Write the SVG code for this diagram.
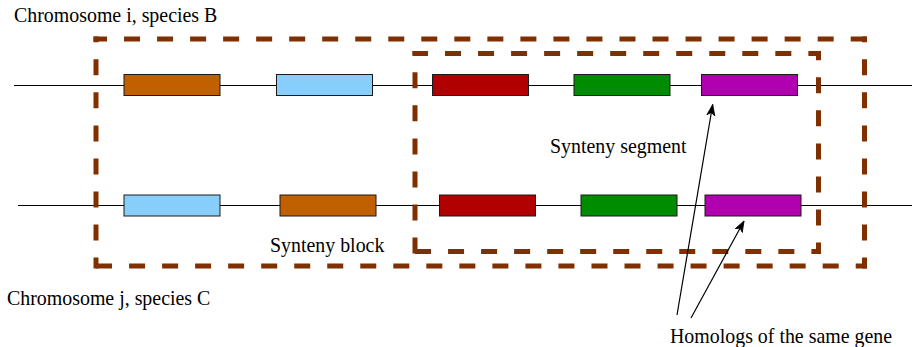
<svg xmlns="http://www.w3.org/2000/svg" width="912" height="347" viewBox="0 0 912 347">
<style>
.lbl{font-family:"Liberation Serif","Times New Roman",serif;font-size:19.9px;fill:#000}
.chr{stroke:#000;stroke-width:1;fill:none}
.gene{stroke:#1a1a1a;stroke-width:1}
.dash{fill:none;stroke:#803000;stroke-width:5;stroke-dasharray:16 17.03;stroke-linecap:butt}
.arr{stroke:#000;stroke-width:1.2;fill:none}
</style>
<defs>
<marker id="ah" viewBox="0 0 12 10" refX="11" refY="5" markerWidth="12" markerHeight="10" markerUnits="userSpaceOnUse" orient="auto">
<path d="M0,1 L11,5 L0,9 L3,5 Z" fill="#000" stroke="#000" stroke-width="0.8"/>
</marker>
</defs>
<rect width="912" height="347" fill="#fff"/>
<g id="chromosomes">
<line class="chr" x1="14" y1="85.5" x2="912" y2="85.5"/>
<line class="chr" x1="18" y1="205.5" x2="912" y2="205.5"/>
</g>
<g id="row1">
<g id="b-orange"><rect class="gene" x="124" y="74.5" width="96" height="21" fill="#c06000"/></g>
<g id="b-blue"><rect class="gene" x="276.5" y="74.5" width="96" height="21" fill="#87cefa"/></g>
<g id="b-red"><rect class="gene" x="432.5" y="74.5" width="96" height="21" fill="#b00000"/></g>
<g id="b-green"><rect class="gene" x="574" y="74.5" width="96" height="21" fill="#008c00"/></g>
<g id="b-magenta"><rect class="gene" x="701.5" y="74.5" width="96" height="21" fill="#b000b0"/></g>
</g>
<g id="row2">
<g id="c-blue"><rect class="gene" x="124" y="195" width="96" height="21" fill="#87cefa"/></g>
<g id="c-orange"><rect class="gene" x="280" y="195" width="96" height="21" fill="#c06000"/></g>
<g id="c-red"><rect class="gene" x="439.5" y="195" width="96" height="21" fill="#b00000"/></g>
<g id="c-green"><rect class="gene" x="581" y="195" width="96" height="21" fill="#008c00"/></g>
<g id="c-magenta"><rect class="gene" x="705" y="195" width="96" height="21" fill="#b000b0"/></g>
</g>
<g id="synteny-block">
<path class="dash" d="M93.5,39 H867" stroke-dashoffset="2.5"/>
<path class="dash" d="M93.5,266 H867" stroke-dashoffset="30.5"/>
<path class="dash" d="M96,36.5 V268.5" stroke-dashoffset="10.2"/>
<path class="dash" d="M864.5,36.5 V268.5" stroke-dashoffset="10.2"/>
<text class="lbl" x="270" y="251.5">Synteny block</text>
</g>
<g id="synteny-segment">
<path class="dash" d="M412.5,53.5 H821" stroke-dashoffset="0.5"/>
<path class="dash" d="M412.5,251.5 H821" stroke-dashoffset="30.5"/>
<path class="dash" d="M415,51 V254" stroke-dashoffset="11.7"/>
<path class="dash" d="M818.5,51 V254" stroke-dashoffset="6.7"/>
<text class="lbl" x="550" y="153">Synteny segment</text>
</g>
<g id="labels">
<text class="lbl" x="14" y="22">Chromosome i, species B</text>
<text class="lbl" x="7" y="305">Chromosome j, species C</text>
<text class="lbl" x="670" y="342.5">Homologs of the same gene</text>
</g>
<g id="connectors">
<line class="arr" x1="677" y1="315" x2="712.7" y2="104.5" marker-end="url(#ah)"/>
<line class="arr" x1="691" y1="318" x2="744" y2="221" marker-end="url(#ah)"/>
</g>
</svg>
